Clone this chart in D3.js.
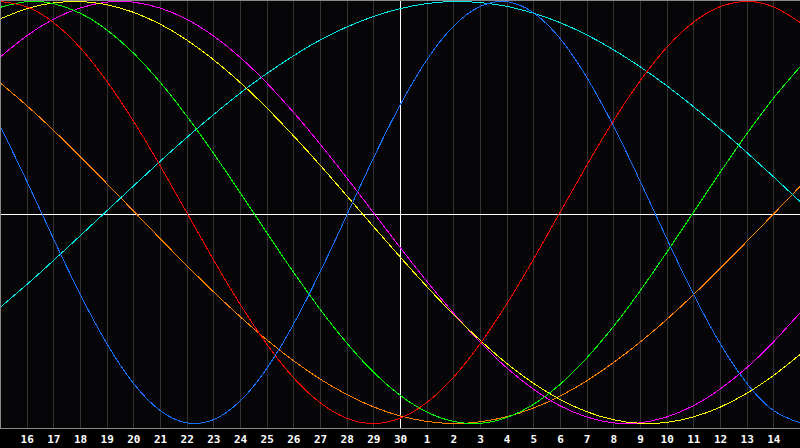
<!DOCTYPE html>
<html>
<head>
<meta charset="utf-8">
<script src="https://cdn.jsdelivr.net/npm/d3@7"></script>
<style>
  html, body { margin: 0; padding: 0; background: #000; }
  svg { display: block; }
</style>
</head>
<body>
<svg id="chart" width="800" height="448"></svg>
<script>
// Day labels (index 1..29 along the axis; index 0 and 30 are the edges)
const dayLabels = ["16","17","18","19","20","21","22","23","24","25","26","27","28","29","30",
                   "1","2","3","4","5","6","7","8","9","10","11","12","13","14"];
const dayIndex = d3.range(0, 31);

// Series values, one per day index 0..30 (range -1..1)
const red = [1.000,0.975,0.901,0.782,0.623,0.434,0.223,0.000,-0.223,-0.434,-0.623,-0.782,-0.901,-0.975,-1.000,
             -0.975,-0.901,-0.782,-0.623,-0.434,-0.223,0.000,0.223,0.434,0.623,0.782,0.901,0.975,1.000,0.975,0.901];
const green = [0.972,0.999,0.990,0.945,0.866,0.756,0.618,0.458,0.282,0.095,-0.095,-0.282,-0.458,-0.618,-0.756,
               -0.866,-0.945,-0.990,-0.999,-0.972,-0.910,-0.815,-0.690,-0.541,-0.372,-0.189,0.000,0.189,0.372,0.541,0.690];
const blue = [0.411,0.150,-0.123,-0.386,-0.620,-0.809,-0.938,-0.997,-0.982,-0.894,-0.740,-0.531,-0.283,-0.014,0.257,
              0.508,0.722,0.882,0.976,0.999,0.947,0.825,0.641,0.411,0.150,-0.123,-0.386,-0.620,-0.809,-0.938,-0.997];
const cyan = [-0.450,-0.342,-0.228,-0.111,0.007,0.125,0.242,0.355,0.463,0.565,0.658,0.742,0.817,0.879,0.929,
              0.966,0.990,1.000,0.995,0.977,0.945,0.900,0.842,0.772,0.691,0.601,0.502,0.397,0.285,0.170,0.052];
const magenta = [0.736,0.837,0.916,0.969,0.997,0.997,0.969,0.916,0.837,0.736,0.614,0.476,0.325,0.165,0.000,
                 -0.165,-0.325,-0.476,-0.614,-0.736,-0.837,-0.916,-0.969,-0.997,-0.997,-0.969,-0.916,-0.837,-0.736,-0.614,-0.476];
const yellow = [0.917,0.966,0.993,1.000,0.985,0.949,0.893,0.818,0.725,0.617,0.496,0.364,0.225,0.080,-0.066,
                -0.210,-0.350,-0.483,-0.605,-0.715,-0.809,-0.886,-0.944,-0.982,-0.999,-0.995,-0.969,-0.923,-0.857,-0.773,-0.673];
const orange = [0.615,0.507,0.390,0.266,0.138,0.008,-0.123,-0.251,-0.375,-0.493,-0.603,-0.702,-0.789,-0.862,-0.921,
                -0.964,-0.990,-1.000,-0.992,-0.968,-0.927,-0.870,-0.798,-0.712,-0.615,-0.507,-0.390,-0.266,-0.138,-0.008,0.123];

const seriesList = [
  { name: "orange",  values: orange,  color: "#ff7f00" },
  { name: "cyan",    values: cyan,    color: "#00e8e8" },
  { name: "magenta", values: magenta, color: "#ff00ff" },
  { name: "yellow",  values: yellow,  color: "#ffff00" },
  { name: "green",   values: green,   color: "#00ff00" },
  { name: "red",     values: red,     color: "#ff0000" },
  { name: "blue",    values: blue,    color: "#1870ff" }
];

const W = 800, plotH = 428;
const svg = d3.select("#chart");

const x = d3.scaleLinear().domain([0, 30]).range([0, W]);
const y = d3.scaleLinear().domain([-1, 1]).range([423.5, 1.5]);

// backgrounds
svg.append("rect").attr("x", 0).attr("y", 0).attr("width", W).attr("height", 448).attr("fill", "#000");
svg.append("rect").attr("x", 0).attr("y", 0).attr("width", W).attr("height", plotH).attr("fill", "#060609");

// vertical grid lines
const gridIdx = d3.range(1, 30);
svg.append("g").selectAll("line").data(gridIdx).join("line")
  .attr("x1", d => Math.round(x(d)) + 0.5).attr("x2", d => Math.round(x(d)) + 0.5)
  .attr("y1", 0).attr("y2", plotH)
  .attr("stroke", "#333333").attr("stroke-width", 1).attr("shape-rendering", "crispEdges");

// centre axes
svg.append("line").attr("x1", 0).attr("x2", W).attr("y1", 214.5).attr("y2", 214.5)
  .attr("stroke", "#ffffff").attr("stroke-width", 1).attr("shape-rendering", "crispEdges");
svg.append("line").attr("x1", Math.round(x(15)) + 0.5).attr("x2", Math.round(x(15)) + 0.5)
  .attr("y1", 0).attr("y2", plotH)
  .attr("stroke", "#ffffff").attr("stroke-width", 1).attr("shape-rendering", "crispEdges");

// curves
const line = d3.line()
  .x((d, i) => x(dayIndex[i]))
  .y(d => y(d))
  .curve(d3.curveNatural);

svg.append("clipPath").attr("id", "plotclip")
  .append("rect").attr("x", 0).attr("y", 0).attr("width", W).attr("height", plotH);

svg.append("g").attr("clip-path", "url(#plotclip)")
  .selectAll("path").data(seriesList).join("path")
  .attr("d", d => line(d.values))
  .attr("fill", "none")
  .attr("stroke", d => d.color)
  .attr("stroke-width", 1)
  .attr("shape-rendering", "crispEdges");

// frame (top, left, bottom)
svg.append("path")
  .attr("d", `M0.5,${plotH + 0.5} L0.5,0.5 L${W},0.5 M0,${plotH + 0.5} L${W},${plotH + 0.5}`)
  .attr("fill", "none").attr("stroke", "#8a8a8a").attr("stroke-width", 1)
  .attr("shape-rendering", "crispEdges");

// day labels via a bottom axis
const axis = d3.axisBottom(x)
  .tickValues(gridIdx)
  .tickFormat(d => dayLabels[d - 1])
  .tickSize(0)
  .tickPadding(0);

const gAxis = svg.append("g").attr("transform", `translate(0,${plotH + 1})`).call(axis);
gAxis.select(".domain").remove();
gAxis.selectAll("text")
  .attr("y", 14)
  .attr("dy", 0)
  .attr("fill", "#ffffff")
  .attr("font-family", "'DejaVu Sans Mono', monospace")
  .attr("font-weight", "bold")
  .attr("font-size", "11px");
</script>
</body>
</html>
